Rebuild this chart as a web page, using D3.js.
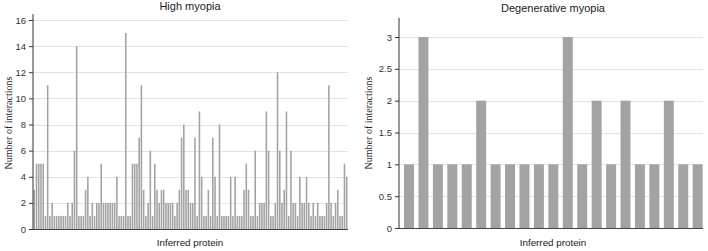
<!DOCTYPE html>
<html>
<head>
<meta charset="utf-8">
<script src="https://cdn.jsdelivr.net/npm/d3@7"></script>
<style>
  body { margin: 0; background: #fff; }
  svg { display: block; }
</style>
</head>
<body>
<svg width="708" height="251"></svg>
<script>
// number of interactions per inferred protein
var highValues = [
  3, 5, 5, 5, 5, 1, 11, 1, 2, 1, 1, 1, 1, 1, 1, 2, 1, 2, 6, 14,
  1, 1, 1, 3, 4, 1, 2, 1, 2, 2, 5, 2, 2, 2, 2, 2, 2, 4, 1, 1,
  1, 15, 1, 1, 5, 5, 5, 7, 11, 3, 1, 2, 6, 1, 5, 3, 2, 3, 3, 2,
  2, 2, 2, 1, 2, 3, 7, 8, 3, 3, 2, 2, 7, 1, 9, 4, 1, 1, 3, 1,
  7, 4, 1, 8, 1, 1, 1, 1, 4, 1, 4, 1, 1, 1, 3, 5, 3, 1, 1, 6,
  1, 2, 2, 2, 9, 6, 1, 1, 2, 12, 6, 2, 3, 9, 1, 6, 2, 2, 1, 4,
  2, 2, 4, 2, 1, 2, 1, 2, 1, 1, 1, 2, 11, 2, 1, 2, 3, 1, 1, 5,
  4
];
var degValues = [1, 3, 1, 1, 1, 2, 1, 1, 1, 1, 1, 3, 1, 2, 1, 2, 1, 1, 2, 1, 1];

var highTicks = [0, 2, 4, 6, 8, 10, 12, 14, 16];
var degTicks = [0, 0.5, 1, 1.5, 2, 2.5, 3];

const svg = d3.select("svg");

// draws one panel
function panel(opts) {
  const g = svg.append("g");
  const x = d3.scaleBand()
    .domain(d3.range(opts.values.length))
    .range([opts.left, opts.right])
    .paddingInner(opts.pad)
    .paddingOuter(opts.padOuter);
  const y = d3.scaleLinear().domain([0, opts.yMax]).range([opts.bottom, opts.top]);

  // gridlines
  g.selectAll(".grid").data(opts.ticks.filter(t => t > 0)).enter()
    .append("line")
    .attr("x1", opts.axisX).attr("x2", opts.gridEnd)
    .attr("y1", d => Math.round(y(d)) + 0.5).attr("y2", d => Math.round(y(d)) + 0.5)
    .attr("stroke", "#e3e3e3").attr("stroke-width", 1);

  // bars
  g.selectAll(".bar").data(opts.values).enter()
    .append("rect")
    .attr("x", (d, i) => x(i))
    .attr("width", x.bandwidth())
    .attr("y", d => y(d))
    .attr("height", d => y(0) - y(d))
    .attr("fill", "#a3a3a3");

  // y axis
  const axis = d3.axisLeft(y).tickValues(opts.ticks).tickSize(4).tickPadding(3)
    .tickFormat(d3.format("~g"));
  const ag = g.append("g").attr("transform", `translate(${opts.axisX},0)`).call(axis);
  ag.select(".domain").remove();
  ag.selectAll("line").attr("stroke", "#333");
  ag.selectAll("text").style("font-family", "Liberation Sans, Arial, sans-serif")
    .style("font-size", "9.5px").attr("fill", "#333");
  g.append("line")
    .attr("x1", opts.axisX).attr("x2", opts.axisX)
    .attr("y1", y(opts.axisTop)).attr("y2", y(0))
    .attr("stroke", "#333").attr("stroke-width", 1);
  // x axis line
  g.append("line")
    .attr("x1", opts.axisX).attr("x2", opts.gridEnd)
    .attr("y1", y(0) + 0.5).attr("y2", y(0) + 0.5)
    .attr("stroke", "#444").attr("stroke-width", 1);

  // titles
  g.append("text").text(opts.title)
    .attr("x", opts.titleX).attr("y", opts.titleY)
    .attr("text-anchor", "middle")
    .style("font-family", "Liberation Sans, Arial, sans-serif")
    .style("font-size", "11px").attr("fill", "#222");
  g.append("text").text("Inferred protein")
    .attr("x", opts.titleX).attr("y", 246)
    .attr("text-anchor", "middle")
    .style("font-family", "Liberation Sans, Arial, sans-serif")
    .style("font-size", "9.8px").attr("fill", "#222");
  g.append("text").text("Number of interactions")
    .attr("transform", `translate(${opts.ylabX},${opts.ylabY}) rotate(-90)`)
    .attr("text-anchor", "middle")
    .style("font-family", "Liberation Serif, Times New Roman, serif")
    .style("font-size", "10px").attr("fill", "#222");
}

panel({
  values: highValues, ticks: highTicks, yMax: 16, axisTop: 16.45,
  left: 33.5, right: 347.5, pad: 0.3, padOuter: 0,
  top: 20, bottom: 229, axisX: 33, gridEnd: 348,
  title: "High myopia", titleX: 190, titleY: 10,
  ylabX: 12, ylabY: 123
});

panel({
  values: degValues, ticks: degTicks, yMax: 3, axisTop: 3.3,
  left: 401.8, right: 704.9, pad: 0.31, padOuter: 0.155,
  top: 37, bottom: 228, axisX: 399, gridEnd: 703,
  title: "Degenerative myopia", titleX: 553, titleY: 12,
  ylabX: 372, ylabY: 123
});
</script>
</body>
</html>
